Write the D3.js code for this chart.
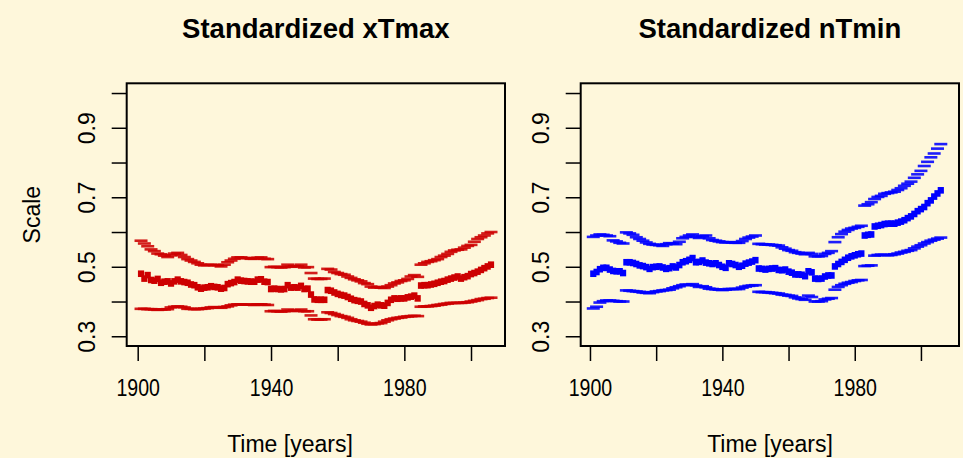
<!DOCTYPE html>
<html>
<head>
<meta charset="utf-8">
<script src="https://cdn.jsdelivr.net/npm/d3@7"></script>
<style>
  html, body { margin: 0; padding: 0; background: #FEF7DB; }
  svg { display: block; }
  text { font-family: "Liberation Sans", Arial, Helvetica, sans-serif; fill: #000; }
</style>
</head>
<body>
<svg id="chart" width="963" height="458"></svg>
<script>
// Years of the annual series
const years = d3.range(1901, 2007);

// Standardized xTmax: central estimate and upper / lower bounds
const xTmaxMid = [
  0.480, 0.466, 0.476, 0.462, 0.460, 0.465, 0.454, 0.457, 0.458, 0.452,
  0.458, 0.463, 0.458, 0.456, 0.454, 0.449, 0.447, 0.441, 0.437, 0.440,
  0.441, 0.444, 0.442, 0.441, 0.437, 0.439, 0.450, 0.453, 0.456, 0.463,
  0.460, 0.459, 0.458, 0.457, 0.457, 0.463, 0.464, 0.457, 0.456, 0.436,
  0.437, 0.436, 0.435, 0.436, 0.447, 0.440, 0.441, 0.440, 0.445, 0.436,
  0.437, 0.420, 0.406, 0.405, 0.405, 0.405, 0.433, 0.431, 0.426, 0.422,
  0.419, 0.417, 0.413, 0.408, 0.404, 0.402, 0.400, 0.393, 0.389, 0.382,
  0.387, 0.391, 0.389, 0.388, 0.396, 0.405, 0.409, 0.408, 0.409, 0.409,
  0.412, 0.414, 0.417, 0.409, 0.446, 0.447, 0.447, 0.449, 0.451, 0.454,
  0.457, 0.459, 0.463, 0.466, 0.469, 0.472, 0.466, 0.470, 0.473, 0.479,
  0.482, 0.486, 0.491, 0.496, 0.501, 0.506
];
const xTmaxUpper = [
  0.575, 0.567, 0.559, 0.550, 0.545, 0.538, 0.536, 0.532, 0.528, 0.533,
  0.538, 0.540, 0.534, 0.528, 0.522, 0.518, 0.514, 0.510, 0.506, 0.504,
  0.505, 0.506, 0.505, 0.504, 0.501, 0.506, 0.513, 0.518, 0.523, 0.527,
  0.527, 0.525, 0.525, 0.523, 0.523, 0.526, 0.527, 0.523, 0.522, 0.499,
  0.500, 0.499, 0.498, 0.499, 0.506, 0.500, 0.502, 0.501, 0.506, 0.498,
  0.499, 0.482, 0.466, 0.465, 0.465, 0.466, 0.494, 0.492, 0.485, 0.482,
  0.479, 0.477, 0.472, 0.468, 0.464, 0.461, 0.458, 0.453, 0.450, 0.443,
  0.440, 0.442, 0.440, 0.439, 0.443, 0.447, 0.452, 0.455, 0.459, 0.461,
  0.465, 0.472, 0.476, 0.471, 0.506, 0.510, 0.514, 0.516, 0.519, 0.522,
  0.528, 0.532, 0.537, 0.543, 0.547, 0.549, 0.550, 0.555, 0.560, 0.563,
  0.572, 0.580, 0.585, 0.590, 0.596, 0.600
];
const xTmaxLower = [
  0.379, 0.379, 0.378, 0.378, 0.377, 0.376, 0.377, 0.377, 0.378, 0.383,
  0.385, 0.386, 0.385, 0.383, 0.379, 0.379, 0.378, 0.378, 0.379, 0.380,
  0.381, 0.383, 0.384, 0.383, 0.382, 0.384, 0.386, 0.389, 0.391, 0.392,
  0.392, 0.391, 0.391, 0.391, 0.390, 0.392, 0.392, 0.391, 0.390, 0.372,
  0.373, 0.372, 0.371, 0.372, 0.377, 0.373, 0.374, 0.373, 0.377, 0.372,
  0.372, 0.360, 0.349, 0.348, 0.348, 0.349, 0.369, 0.367, 0.364, 0.361,
  0.358, 0.356, 0.353, 0.349, 0.346, 0.344, 0.342, 0.339, 0.336, 0.334,
  0.335, 0.337, 0.338, 0.342, 0.346, 0.349, 0.351, 0.353, 0.354, 0.356,
  0.357, 0.358, 0.359, 0.358, 0.385, 0.386, 0.386, 0.387, 0.388, 0.390,
  0.391, 0.393, 0.394, 0.396, 0.396, 0.396, 0.396, 0.397, 0.398, 0.400,
  0.402, 0.404, 0.407, 0.408, 0.410, 0.411
];

// Standardized nTmin: central estimate and upper / lower bounds
const nTminMid = [
  0.480, 0.485, 0.493, 0.497, 0.497, 0.492, 0.488, 0.487, 0.487, 0.482,
  0.513, 0.513, 0.511, 0.508, 0.504, 0.502, 0.499, 0.494, 0.499, 0.500,
  0.501, 0.498, 0.494, 0.496, 0.501, 0.498, 0.505, 0.513, 0.516, 0.520,
  0.525, 0.513, 0.514, 0.518, 0.512, 0.510, 0.508, 0.510, 0.505, 0.500,
  0.497, 0.510, 0.508, 0.505, 0.500, 0.503, 0.509, 0.512, 0.515, 0.519,
  0.495, 0.494, 0.492, 0.494, 0.495, 0.496, 0.491, 0.490, 0.492, 0.486,
  0.483, 0.478, 0.478, 0.477, 0.473, 0.487, 0.484, 0.466, 0.465, 0.466,
  0.472, 0.475, 0.475, 0.501, 0.508, 0.514, 0.520, 0.526, 0.530, 0.533,
  0.536, 0.538, 0.590, 0.592, 0.593, 0.616, 0.618, 0.620, 0.623, 0.624,
  0.624, 0.624, 0.627, 0.630, 0.634, 0.640, 0.645, 0.652, 0.660, 0.666,
  0.672, 0.683, 0.691, 0.702, 0.711, 0.720
];
const nTminUpper = [
  0.586, 0.590, 0.593, 0.592, 0.590, 0.588, 0.576, 0.573, 0.569, 0.567,
  0.599, 0.596, 0.592, 0.585, 0.580, 0.575, 0.570, 0.566, 0.564, 0.563,
  0.562, 0.560, 0.565, 0.568, 0.567, 0.565, 0.572, 0.582, 0.586, 0.590,
  0.593, 0.586, 0.583, 0.588, 0.590, 0.582, 0.577, 0.575, 0.573, 0.571,
  0.570, 0.571, 0.570, 0.569, 0.569, 0.574, 0.580, 0.584, 0.587, 0.590,
  0.566, 0.565, 0.564, 0.564, 0.563, 0.562, 0.561, 0.556, 0.552, 0.548,
  0.546, 0.542, 0.540, 0.538, 0.536, 0.540, 0.537, 0.530, 0.530, 0.531,
  0.537, 0.540, 0.545, 0.571, 0.585, 0.594, 0.601, 0.606, 0.610, 0.612,
  0.615, 0.618, 0.676, 0.680, 0.686, 0.695, 0.701, 0.704, 0.710, 0.712,
  0.714, 0.716, 0.721, 0.726, 0.733, 0.739, 0.745, 0.756, 0.766, 0.776,
  0.790, 0.802, 0.815, 0.826, 0.840, 0.853
];
const nTminLower = [
  0.380, 0.385, 0.397, 0.401, 0.403, 0.403, 0.402, 0.401, 0.400, 0.400,
  0.432, 0.431, 0.430, 0.429, 0.428, 0.426, 0.425, 0.424, 0.427, 0.429,
  0.430, 0.432, 0.433, 0.434, 0.438, 0.441, 0.444, 0.447, 0.449, 0.448,
  0.450, 0.446, 0.442, 0.444, 0.441, 0.437, 0.436, 0.435, 0.434, 0.433,
  0.434, 0.436, 0.436, 0.436, 0.436, 0.440, 0.443, 0.445, 0.446, 0.447,
  0.428, 0.427, 0.427, 0.426, 0.425, 0.424, 0.423, 0.420, 0.419, 0.417,
  0.416, 0.412, 0.409, 0.407, 0.405, 0.417, 0.413, 0.400, 0.400, 0.401,
  0.406, 0.408, 0.410, 0.434, 0.442, 0.447, 0.451, 0.454, 0.456, 0.459,
  0.461, 0.462, 0.502, 0.503, 0.504, 0.532, 0.534, 0.535, 0.534, 0.533,
  0.534, 0.536, 0.538, 0.541, 0.543, 0.546, 0.548, 0.553, 0.558, 0.562,
  0.567, 0.571, 0.575, 0.578, 0.581, 0.584
];

// Axis ticks and labels
const xTicks = [1900, 1920, 1940, 1960, 1980, 2000];
const xTickLabels = ["1900", "", "1940", "", "1980", ""];
const yTicks = [0.3, 0.4, 0.5, 0.6, 0.7, 0.8, 0.9, 1.0];
const yTickLabels = ["0.3", "", "0.5", "", "0.7", "", "0.9", ""];

const panels = [
  { title: "Standardized xTmax", color: "#CD0000", mid: xTmaxMid, upper: xTmaxUpper, lower: xTmaxLower,
    left: 126.7, right: 505, xDomain: [1896.7, 2010.2], xlabX: 290, ylab: "Scale" },
  { title: "Standardized nTmin", color: "#0000FF", mid: nTminMid, upper: nTminUpper, lower: nTminLower,
    left: 580.7, right: 959, xDomain: [1897.2, 2011.5], xlabX: 770, ylab: null }
];

const plotTop = 83.3, plotBottom = 346;
const svg = d3.select("#chart");
const y = d3.scaleLinear().domain([0.272, 1.028]).range([plotBottom, plotTop]);

panels.forEach(p => {
  const x = d3.scaleLinear().domain(p.xDomain).range([p.left, p.right]);
  const g = svg.append("g");

  // bounds drawn as short horizontal dashes, one per year
  [p.upper, p.lower].forEach(series => {
    g.append("g").selectAll("rect")
      .data(years.map((yr, i) => [yr, series[i]]))
      .join("rect")
      .attr("x", d => x(d[0]) - 6.5)
      .attr("y", d => y(d[1]) - 1.3)
      .attr("width", 13)
      .attr("height", 2.6)
      .attr("fill", p.color)
      .attr("opacity", 0.88);
  });

  // central estimate drawn as filled squares
  g.append("g").selectAll("rect")
    .data(years.map((yr, i) => [yr, p.mid[i]]))
    .join("rect")
    .attr("x", d => x(d[0]) - 3.1)
    .attr("y", d => y(d[1]) - 3.3)
    .attr("width", 6.2)
    .attr("height", 6.6)
    .attr("fill", p.color);

  // plot frame
  g.append("rect")
    .attr("x", p.left).attr("y", plotTop)
    .attr("width", p.right - p.left).attr("height", plotBottom - plotTop)
    .attr("fill", "none").attr("stroke", "#000").attr("stroke-width", 2);

  // x axis
  const xAxis = d3.axisBottom(x).tickValues(xTicks)
    .tickFormat((d, i) => xTickLabels[i]).tickSize(15);
  const gx = g.append("g").attr("transform", `translate(0,${plotBottom})`).call(xAxis);
  gx.select(".domain").remove();
  gx.selectAll(".tick line").attr("stroke", "#000").attr("stroke-width", 1.5);
  gx.selectAll(".tick text")
    .attr("font-size", 23)
    .attr("font-family", "Liberation Sans, Arial, sans-serif")
    .attr("y", null).attr("dy", null)
    .attr("transform", "translate(0,50) scale(0.85,1)");

  // y axis
  const yAxis = d3.axisLeft(y).tickValues(yTicks)
    .tickFormat((d, i) => yTickLabels[i]).tickSize(15).tickPadding(0);
  const gy = g.append("g").attr("transform", `translate(${p.left},0)`).call(yAxis);
  gy.select(".domain").remove();
  gy.selectAll(".tick line").attr("stroke", "#000").attr("stroke-width", 1.5);
  gy.selectAll(".tick text")
    .attr("font-size", 23)
    .attr("font-family", "Liberation Sans, Arial, sans-serif")
    .attr("x", null).attr("dy", null)
    .attr("text-anchor", "middle")
    .attr("transform", "translate(-32,0) rotate(-90)");

  const cx = (p.left + p.right) / 2;

  // panel title
  svg.append("text")
    .attr("x", cx).attr("y", 38)
    .attr("text-anchor", "middle")
    .attr("font-size", 27.5).attr("font-weight", "bold")
    .text(p.title);

  // x axis label
  svg.append("text")
    .attr("x", p.xlabX).attr("y", 452)
    .attr("text-anchor", "middle")
    .attr("font-size", 23)
    .text("Time [years]");

  // y axis label
  if (p.ylab) {
    svg.append("text")
      .attr("transform", `translate(40,${(plotTop + plotBottom) / 2}) rotate(-90)`)
      .attr("text-anchor", "middle")
      .attr("font-size", 23)
      .text(p.ylab);
  }
});
</script>
</body>
</html>
